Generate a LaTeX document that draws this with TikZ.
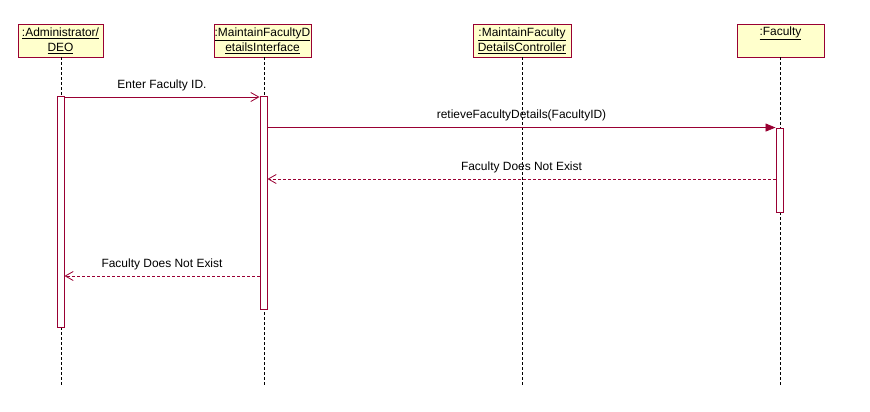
\documentclass[tikz,border=0pt]{standalone}
\usepackage{fontspec}
\setmainfont{Liberation Sans}
\usetikzlibrary {arrows.meta}
\definecolor{umlred}{RGB}{153,0,51}
\definecolor{umlfill}{RGB}{255,255,204}

\begin{document}
\begin{tikzpicture}[x=1bp,y=-1bp]
    \tikzstyle{obj} = [draw=umlred,fill=umlfill,line width=0.9bp,align=center,minimum height=33bp,inner sep=0pt,font=\fontsize{12}{15}\selectfont]
    \tikzstyle{life} = [draw=black,line width=0.8bp,dash pattern=on 3bp off 2bp]
    \tikzstyle{act} = [draw=umlred,fill=white,line width=0.9bp,minimum width=7bp,inner sep=0pt]
    \tikzstyle{msg} = [draw=umlred,line width=0.8bp]
    \tikzstyle{reply} = [draw=umlred,line width=0.8bp,dash pattern=on 3bp off 2bp]
    \tikzstyle{lbl} = [font=\fontsize{12}{14}\selectfont,inner sep=0pt,anchor=base,yshift=9bp]
    \tikzstyle{open} = [-{Straight Barb[length=8bp,width=9bp]}]
    \tikzstyle{call} = [-{Triangle[length=10bp,width=8bp]}]
    \useasboundingbox (0,0) rectangle (870,411);
    \node [obj,minimum width=85bp] (adm) at (60.5,40.5) {\underline{:Administrator/}\\\underline{DEO}};
    \node [obj,minimum width=97bp] (intf) at (262.5,40.5) {\underline{:MaintainFacultyD}\\\underline{etailsInterface}};
    \node [obj,minimum width=98bp] (ctrl) at (522,40.5) {\underline{:MaintainFaculty}\\\underline{DetailsController}};
    \node [obj,minimum width=87bp] (fac) at (780.5,40.5) {\underline{:Faculty}\\\strut};
    \coordinate (admend) at (61,385);
    \coordinate (intfend) at (264,385);
    \coordinate (ctrlend) at (522,385);
    \coordinate (facend) at (780,385);
    \draw [life] (adm.south -| admend) -- (admend);
    \draw [life] (intf.south -| intfend) -- (intfend);
    \draw [life] (ctrl.south -| ctrlend) -- (ctrlend);
    \draw [life] (fac.south -| facend) -- (facend);
    \node [act,minimum height=231bp] (adma) at (60.5,211.5) {};
    \node [act,minimum height=213bp] (intfa) at (263.5,202.5) {};
    \node [act,minimum height=84bp] (faca) at (779.5,170) {};
    \coordinate (y1) at (0,97);
    \coordinate (y3) at (0,179);
    \coordinate (y4) at (0,276);
    \draw [msg,open] (adma.east |- y1) -- node [lbl] {Enter Faculty ID.} (intfa.west |- y1);
    \draw [msg,call] (intfa.east |- faca.north) -- node [lbl] {retieveFacultyDetails(FacultyID)} (faca.north west);
    \draw [reply,open] (faca.west |- y3) -- node [lbl] {Faculty Does Not Exist} (intfa.east |- y3);
    \draw [reply,open] (intfa.west |- y4) -- node [lbl] {Faculty Does Not Exist} (adma.east |- y4);
\end{tikzpicture}
\end{document}
